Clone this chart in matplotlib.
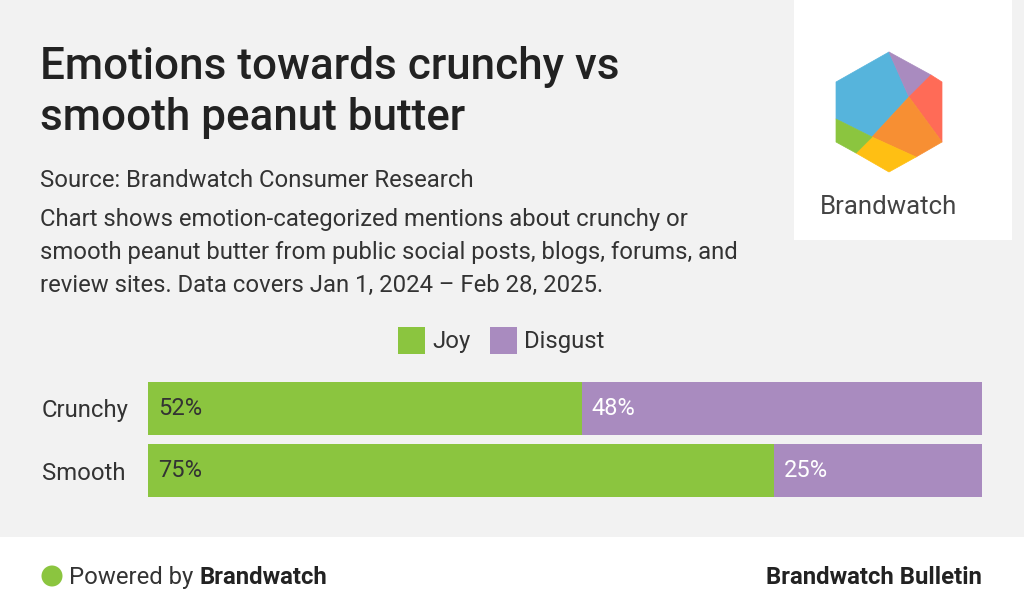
import matplotlib.pyplot as plt
from matplotlib.patches import Rectangle, Polygon, Ellipse

plt.rcParams['font.family'] = ['Roboto', 'DejaVu Sans']

# data
categories = ['Crunchy', 'Smooth']
joy = [52, 75]
disgust = [48, 25]
series_names = ['Joy', 'Disgust']
colors = ['#8bc53f', '#a98bbf']

W, H = 1024, 616
fig = plt.figure(figsize=(W / 100, H / 100), dpi=100)
fig.patch.set_facecolor('#f2f2f2')


def px(x, y):
    return x / W, 1 - y / H


def fbox(x0, y0, x1, y1):
    return [x0 / W, 1 - y1 / H, (x1 - x0) / W, (y1 - y0) / H]


# footer + logo box backgrounds
fig.patches.append(Rectangle(px(0, 616), 1, 79 / H, transform=fig.transFigure,
                             facecolor='white', edgecolor='none', zorder=0))
fig.patches.append(Rectangle(px(794, 240), 218 / W, 240 / H, transform=fig.transFigure,
                             facecolor='white', edgecolor='none', zorder=0))

# logo hexagon pieces
T, UR, LR, BOT, LL, UL = (889, 52), (942, 82), (942, 142), (889, 172), (836, 142), (836, 82)
A, B = (909, 97), (872, 137)
pieces = [
    ([T, A, B, (836, 119), UL], '#56b4dc'),
    ([T, (931, 75), A], '#a98bbf'),
    ([(931, 75), UR, LR, A], '#ff6b57'),
    ([A, LR, (916, 157), B], '#f78f33'),
    ([B, (916, 157), BOT, (856, 153)], '#ffbf13'),
    ([B, (856, 153), LL, (836, 119)], '#8bc53f'),
]
for pts, c in pieces:
    fig.patches.append(Polygon([px(*p) for p in pts], closed=True, transform=fig.transFigure,
                               facecolor=c, edgecolor=c, linewidth=0.5, joinstyle='round', zorder=1))
fig.text(*px(889, 214), 'Brandwatch', fontsize=18.5, color='#444444', ha='center', va='baseline')

# title and description
fig.text(*px(40, 79), 'Emotions towards crunchy vs', fontsize=31.7, fontweight='medium',
         color='#222222', va='baseline')
fig.text(*px(40, 130), 'smooth peanut butter', fontsize=31.7, fontweight='medium',
         color='#222222', va='baseline')
fig.text(*px(40, 187), 'Source: Brandwatch Consumer Research', fontsize=17.2,
         color='#333333', va='baseline')
desc = ['Chart shows emotion-categorized mentions about crunchy or',
        'smooth peanut butter from public social posts, blogs, forums, and',
        'review sites. Data covers Jan 1, 2024 \u2013 Feb 28, 2025.']
for i, line in enumerate(desc):
    fig.text(*px(40, 226 + 33 * i), line, fontsize=17.2, color='#333333', va='baseline')

# legend
leg_x = [398, 490]
for x, name, c in zip(leg_x, series_names, colors):
    fig.patches.append(Rectangle(px(x, 354), 27 / W, 27 / H, transform=fig.transFigure,
                                 facecolor=c, edgecolor='none'))
    fig.text(*px(x + 34, 348), name, fontsize=17.2, color='#333333', va='baseline')

# bars
h = 53 / 62
ax = fig.add_axes(fbox(148, 382, 982, 497))
ax.set_facecolor('none')
ypos = list(range(len(categories)))
ax.barh(ypos, joy, height=h, color=colors[0], linewidth=0)
ax.barh(ypos, disgust, left=joy, height=h, color=colors[1], linewidth=0)
ax.set_xlim(0, 100)
ax.set_ylim(len(categories) - 1 + h / 2, -h / 2)
for y, j, d in zip(ypos, joy, disgust):
    ax.text(1.2, y, f'{j}%', fontsize=17, color='#333333', va='center', ha='left')
    ax.text(j + 1.2, y, f'{d}%', fontsize=17, color='white', va='center', ha='left')
ax.set_yticks(ypos)
ax.set_yticklabels(categories, fontsize=17.2, color='#333333')
ax.tick_params(axis='y', length=0, pad=0)
ax.set_xticks([])
for s in ax.spines.values():
    s.set_visible(False)
for lab in ax.get_yticklabels():
    lab.set_horizontalalignment('left')
    lab.set_x(-106 / 834)

# footer
fig.patches.append(Ellipse(px(52, 576), 21 / W, 21 / H, transform=fig.transFigure,
                           facecolor='#8bc53f', edgecolor='none'))
t = fig.text(*px(69, 584), 'Powered by ', fontsize=17.2, color='#333333', va='baseline')
fig.canvas.draw()
bb = t.get_window_extent()
fig.text(bb.x1 / W, 1 - 584 / H, 'Brandwatch', fontsize=17.2, fontweight='bold',
         color='#222222', va='baseline')
fig.text(*px(982, 584), 'Brandwatch Bulletin', fontsize=17.2, fontweight='bold',
         color='#222222', va='baseline', ha='right')

fig.savefig('out.png', dpi=100, facecolor=fig.get_facecolor())
